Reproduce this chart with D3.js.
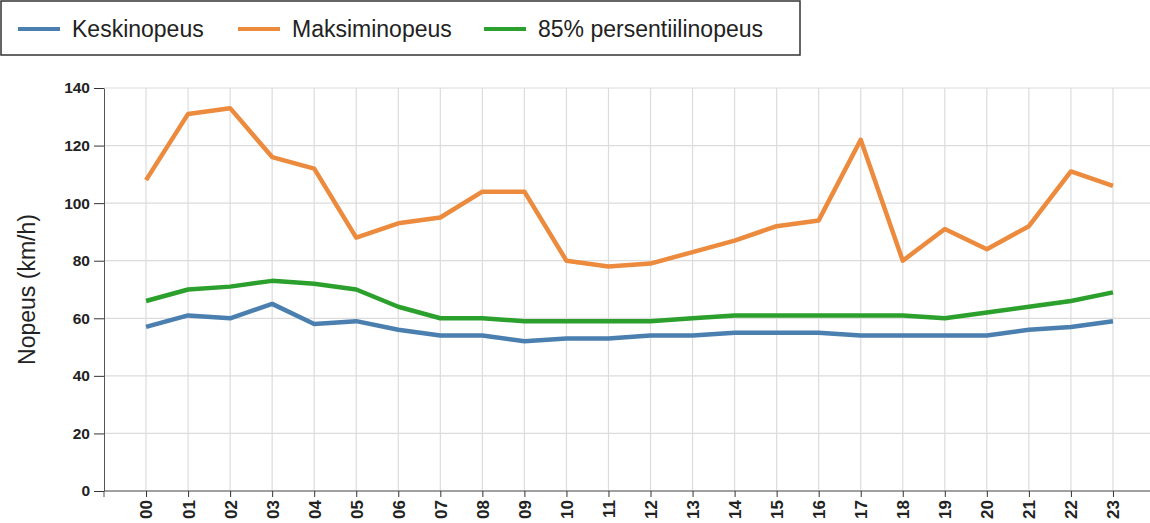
<!DOCTYPE html>
<html>
<head>
<meta charset="utf-8">
<script src="https://cdn.jsdelivr.net/npm/d3@7"></script>
<style>
  body { margin: 0; background: #fff; }
  text { font-family: Arial, "Liberation Sans", sans-serif; }
</style>
</head>
<body>
<script>
const hours = ['00','01','02','03','04','05','06','07','08','09','10','11','12','13','14','15','16','17','18','19','20','21','22','23'];
const keskinopeus = [57, 61, 60, 65, 58, 59, 56, 54, 54, 52, 53, 53, 54, 54, 55, 55, 55, 54, 54, 54, 54, 56, 57, 59];
const maksiminopeus = [108, 131, 133, 116, 112, 88, 93, 95, 104, 104, 80, 78, 79, 83, 87, 92, 94, 122, 80, 91, 84, 92, 111, 106];
const persentiili85 = [66, 70, 71, 73, 72, 70, 64, 60, 60, 59, 59, 59, 59, 60, 61, 61, 61, 61, 61, 60, 62, 64, 66, 69];
const yTicks = [0, 20, 40, 60, 80, 100, 120, 140];

const series = [
  { name: 'Keskinopeus', values: keskinopeus, color: '#4a7fb0' },
  { name: 'Maksiminopeus', values: maksiminopeus, color: '#ec8b3e' },
  { name: '85% persentiilinopeus', values: persentiili85, color: '#2ca02c' },
];

const W = 1150, H = 523;
const m = { left: 104, top: 88, bottom: 491, right: 1155 };

const svg = d3.select('body').append('svg').attr('width', W).attr('height', H);

const x = d3.scalePoint().domain(hours).range([m.left, m.right]).padding(1);
const y = d3.scaleLinear().domain([0, 140]).range([m.bottom, m.top]);

// grid
svg.append('g').selectAll('line').data(yTicks).enter().append('line')
  .attr('x1', m.left).attr('x2', W)
  .attr('y1', d => y(d)).attr('y2', d => y(d))
  .attr('stroke', '#dcdcdc').attr('stroke-width', 1.2);
svg.append('g').selectAll('line').data(hours).enter().append('line')
  .attr('x1', d => x(d)).attr('x2', d => x(d))
  .attr('y1', m.top).attr('y2', m.bottom)
  .attr('stroke', '#dcdcdc').attr('stroke-width', 1.2);

// axes
const yAxis = svg.append('g').attr('transform', `translate(${m.left},0)`)
  .call(d3.axisLeft(y).tickValues(yTicks).tickSize(10).tickSizeOuter(0));
yAxis.select('.domain').attr('stroke', '#555');
yAxis.selectAll('.tick line').attr('stroke', '#333');
yAxis.selectAll('.tick text').attr('font-size', 15.5).attr('font-weight', 'bold').attr('fill', '#222').attr('x', -14);

const xAxis = svg.append('g').attr('transform', `translate(0,${m.bottom})`)
  .call(d3.axisBottom(x).tickSize(6).tickSizeOuter(0));
xAxis.select('.domain').attr('d', `M${m.left},6V0H${W}`).attr('stroke', '#555');
xAxis.selectAll('.tick line').attr('stroke', '#333');
xAxis.selectAll('.tick text')
  .attr('font-size', 17).attr('font-weight', 'bold').attr('fill', '#222')
  .attr('transform', 'rotate(-90)')
  .attr('text-anchor', 'end').attr('x', -9).attr('y', 0).attr('dy', '0.35em');

svg.append('text')
  .attr('transform', `translate(35,${(m.top + m.bottom) / 2}) rotate(-90)`)
  .attr('text-anchor', 'middle')
  .attr('font-size', 23).attr('fill', '#222')
  .text('Nopeus (km/h)');

// lines
const line = d3.line().x((d, i) => x(hours[i])).y(d => y(d));
svg.append('g').selectAll('path').data(series).enter().append('path')
  .attr('d', d => line(d.values))
  .attr('fill', 'none')
  .attr('stroke', d => d.color)
  .attr('stroke-width', 4.5)
  .attr('stroke-linejoin', 'round');

// legend
const legend = svg.append('g');
legend.append('rect').attr('x', 1).attr('y', 1).attr('width', 799).attr('height', 54)
  .attr('fill', '#fff').attr('stroke', '#333').attr('stroke-width', 1.5);
const legendX = [18, 238, 484];
const items = legend.selectAll('g.item').data(series).enter().append('g')
  .attr('transform', (d, i) => `translate(${legendX[i]},29)`);
items.append('line').attr('x1', 0).attr('x2', 42).attr('y1', 0).attr('y2', 0)
  .attr('stroke', d => d.color).attr('stroke-width', 4);
items.append('text').attr('x', 54).attr('dy', '0.35em')
  .attr('font-size', 23).attr('fill', '#222')
  .text(d => d.name);
</script>
</body>
</html>
